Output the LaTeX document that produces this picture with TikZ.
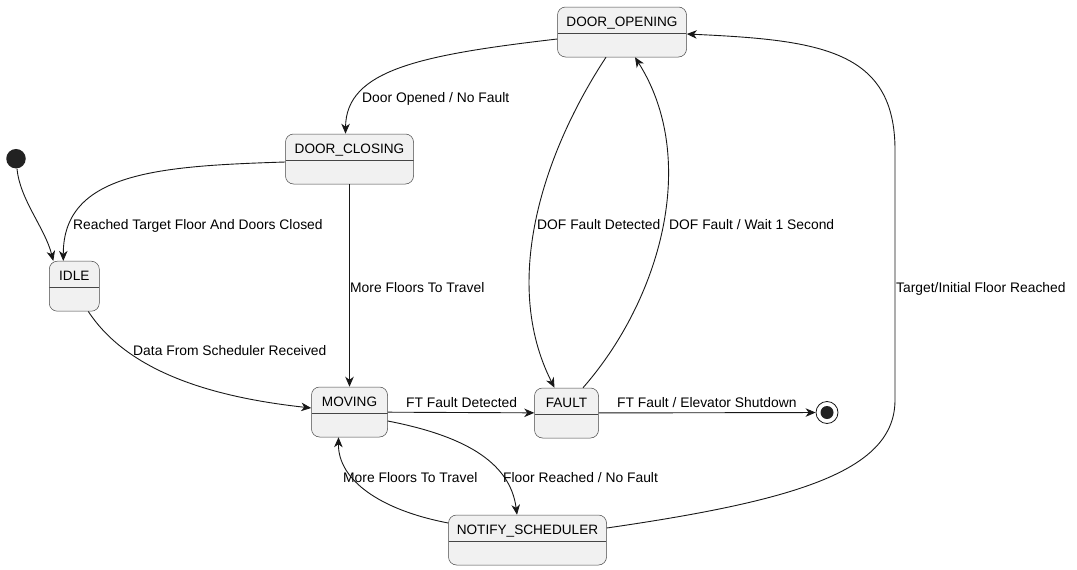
\documentclass[tikz,border=0pt]{standalone}
\usepackage{fontspec}
\setmainfont{Liberation Sans}
\usetikzlibrary{arrows.meta}
\definecolor{umlborder}{RGB}{24,24,24}
\definecolor{umlfill}{RGB}{241,241,241}
\definecolor{umldot}{RGB}{34,34,34}

\begin{document}
\begin{tikzpicture}[
    x=1pt, y=-1pt,
    state/.style={rectangle, rounded corners=8pt, draw=umlborder!80, line width=0.5pt,
                  fill=umlfill, minimum height=50pt, inner sep=0pt,
                  text height=19pt, text depth=31pt, font=\fontsize{13.6}{16}\selectfont,
                  path picture={\draw[umlborder!80, line width=0.5pt]
                    ([yshift=-26pt]path picture bounding box.north west) --
                    ([yshift=-26pt]path picture bounding box.north east);}},
    startdot/.style={circle, fill=umldot, minimum size=19.5pt, inner sep=0pt},
    enddot/.style={circle, draw=umlborder, line width=0.8pt, minimum size=22pt, inner sep=0pt,
                   path picture={\fill[umldot] (path picture bounding box.center) circle (6.5pt);}},
    lbl/.style={anchor=base west, inner sep=0pt, font=\fontsize{13.85}{16}\selectfont},
    trans/.style={-{Stealth[length=10pt, width=8.5pt, inset=3pt]}, draw=umlborder, line width=0.9pt}
  ]
    \useasboundingbox (0,0) rectangle (1077,570);

    % states
    \node[state, minimum width=129pt] (opening) at (622,32)    {DOOR\_OPENING};
    \node[state, minimum width=128pt] (closing) at (349.5,159) {DOOR\_CLOSING};
    \node[state, minimum width=50pt]  (idle)    at (74.3,286.2) {IDLE};
    \node[state, minimum width=76pt]  (moving)  at (349.5,412) {MOVING};
    \node[state, minimum width=64pt]  (fault)   at (566.5,413) {FAULT};
    \node[state, minimum width=158pt] (notify)  at (527.5,540) {NOTIFY\_SCHEDULER};
    \node[startdot] (init)  at (16,158.7)  {};
    \node[enddot]   (final) at (827,412.5) {};

    % transitions
    \draw[trans] (init) .. controls (20,200) and (45,228) .. ([xshift=-21pt]idle.north);
    \draw[trans] ([yshift=-3pt]closing.west) .. controls (160,166) and (63,172) .. ([xshift=-11pt]idle.north);
    \draw[trans] ([yshift=-7pt]opening.west) .. controls (420,55) and (346,70) .. ([xshift=-4pt]closing.north);
    \draw[trans] (closing) -- (moving);
    \draw[trans] ([xshift=14pt]idle.south) .. controls (130,375) and (220,398) .. ([yshift=4pt]moving.west);
    \draw[trans] (moving) -- (fault);
    \draw[trans] (fault) -- (final);
    \draw[trans] ([xshift=-16pt]opening.south) .. controls (545,150) and (500,280) .. ([xshift=-12pt]fault.north);
    \draw[trans] ([xshift=16.5pt]fault.north) .. controls (660,300) and (700,160) .. ([xshift=13pt]opening.south);
    \draw[trans] ([yshift=12pt]notify.east) .. controls (800,500) and (895,470) .. (895,400)
                 -- (895,150) .. controls (895,50) and (820,40) .. ([yshift=-2pt]opening.east);
    \draw[trans] ([yshift=-9pt]moving.east) .. controls (460,435) and (510,460) .. ([xshift=-10.5pt]notify.north);
    \draw[trans] ([yshift=17pt]notify.west) .. controls (380,510) and (338,480) .. ([xshift=-11pt]moving.south);

    % labels
    \node[lbl] (l-opened)  at (362,102) {Door Opened / No Fault};
    \node[lbl] (l-closed)  at (73,229)  {Reached Target Floor And Doors Closed};
    \node[lbl] (l-more1)   at (350,292) {More Floors To Travel};
    \node[lbl] (l-dofdet)  at (537,229) {DOF Fault Detected};
    \node[lbl] (l-dofwait) at (669,229) {DOF Fault / Wait 1 Second};
    \node[lbl] (l-target)  at (896,292) {Target/Initial Floor Reached};
    \node[lbl] (l-data)    at (133,355) {Data From Scheduler Received};
    \node[lbl] (l-ftdet)   at (406,407) {FT Fault Detected};
    \node[lbl] (l-ftshut)  at (617,407) {FT Fault / Elevator Shutdown};
    \node[lbl] (l-more2)   at (343,482) {More Floors To Travel};
    \node[lbl] (l-reached) at (503,482) {Floor Reached / No Fault};
  \end{tikzpicture}
\end{document}
